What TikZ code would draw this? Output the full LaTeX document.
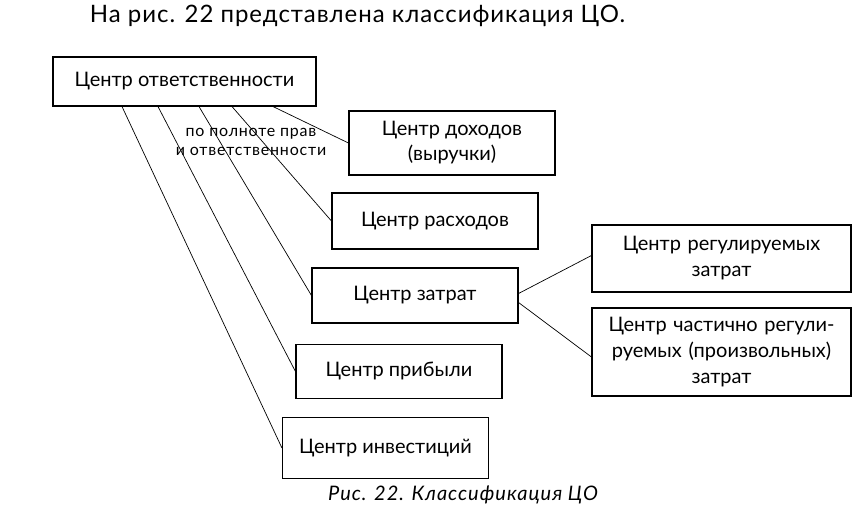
\documentclass[tikz,border=0pt]{standalone}
\usepackage{fontspec}
\setmainfont{Lato}
\usetikzlibrary{shapes.geometric, arrows, positioning, fit, calc}

\begin{document}
\begin{tikzpicture}[x=1pt, y=1pt, node distance=76pt]

        % Define styles for each type of node
        \tikzstyle{centre} = [rectangle, minimum width=206pt, minimum height=56pt, text centered, draw=black, line width=1.1pt, font=\fontsize{20}{25}\selectfont]
        \tikzstyle{wide} = [rectangle, minimum width=259pt, text width=245pt, align=center, draw=black, line width=1.1pt, font=\fontsize{20}{26}\selectfont]
        \tikzstyle{note} = [align=center, font=\fontsize{16}{19}\selectfont\addfontfeature{LetterSpace=5}]

        % Define line style
        \tikzstyle{link} = [line width=0.7pt]

        \useasboundingbox (0,0) rectangle (853,-519);

        % Nodes
        \node (title) at (357.5,-16) [font=\fontsize{24}{28}\selectfont\addfontfeature{LetterSpace=4}] {На рис. 22 представлена классификация ЦО.};
        \node (resp) [centre, minimum width=263pt, minimum height=49pt] at (184.5,-81.5) {Центр ответственности};

        % Центры по полноте прав и ответственности
        \node (income) [centre, align=center, minimum height=64pt, below of=resp, xshift=267.5pt, yshift=14.5pt] {Центр доходов\\(выручки)};
        \node (expense) [centre, below of=income, xshift=-17pt, yshift=-2pt] {Центр расходов};
        \node (cost) [centre, minimum height=55pt, below of=expense, xshift=-20pt, yshift=1.5pt] {Центр затрат};
        \node (profit) [centre, minimum height=54pt, below of=cost, xshift=-16pt] {Центр прибыли};
        \node (invest) [centre, minimum height=61pt, below of=profit, xshift=-13.5pt, yshift=-0.5pt] {Центр инвестиций};

        % Виды центров затрат
        \node (regul) [wide, minimum height=67pt, right of=cost, xshift=230.5pt, yshift=37pt] {Центр регулируемых\\затрат};
        \node (partial) [wide, minimum height=88pt, below of=regul, yshift=-17.5pt] {Центр частично регули-\\руемых (произвольных)\\затрат};

        \node (criterion) [note] at (251,-142) {по полноте прав\\и ответственности};
        \node (caption) at (463,-495) [font=\fontsize{20}{24}\selectfont\itshape\addfontfeature{LetterSpace=5}] {Рис. 22. Классификация ЦО};

        % Lines
        \draw [link] ([xshift=88.5pt]resp.south) -- (income.west);
        \draw [link] ([xshift=47.5pt]resp.south) -- (expense.west);
        \draw [link] ([xshift=14.5pt]resp.south) -- (cost.west);
        \draw [link] ([xshift=-26.5pt]resp.south) -- (profit.west);
        \draw [link] ([xshift=-62.5pt]resp.south) -- (invest.west);

        \draw [link] ([yshift=2pt]cost.east) -- ([yshift=3pt]regul.west);
        \draw [link] ([yshift=-7pt]cost.east) -- ([yshift=-5pt]partial.west);

    \end{tikzpicture}
\end{document}
